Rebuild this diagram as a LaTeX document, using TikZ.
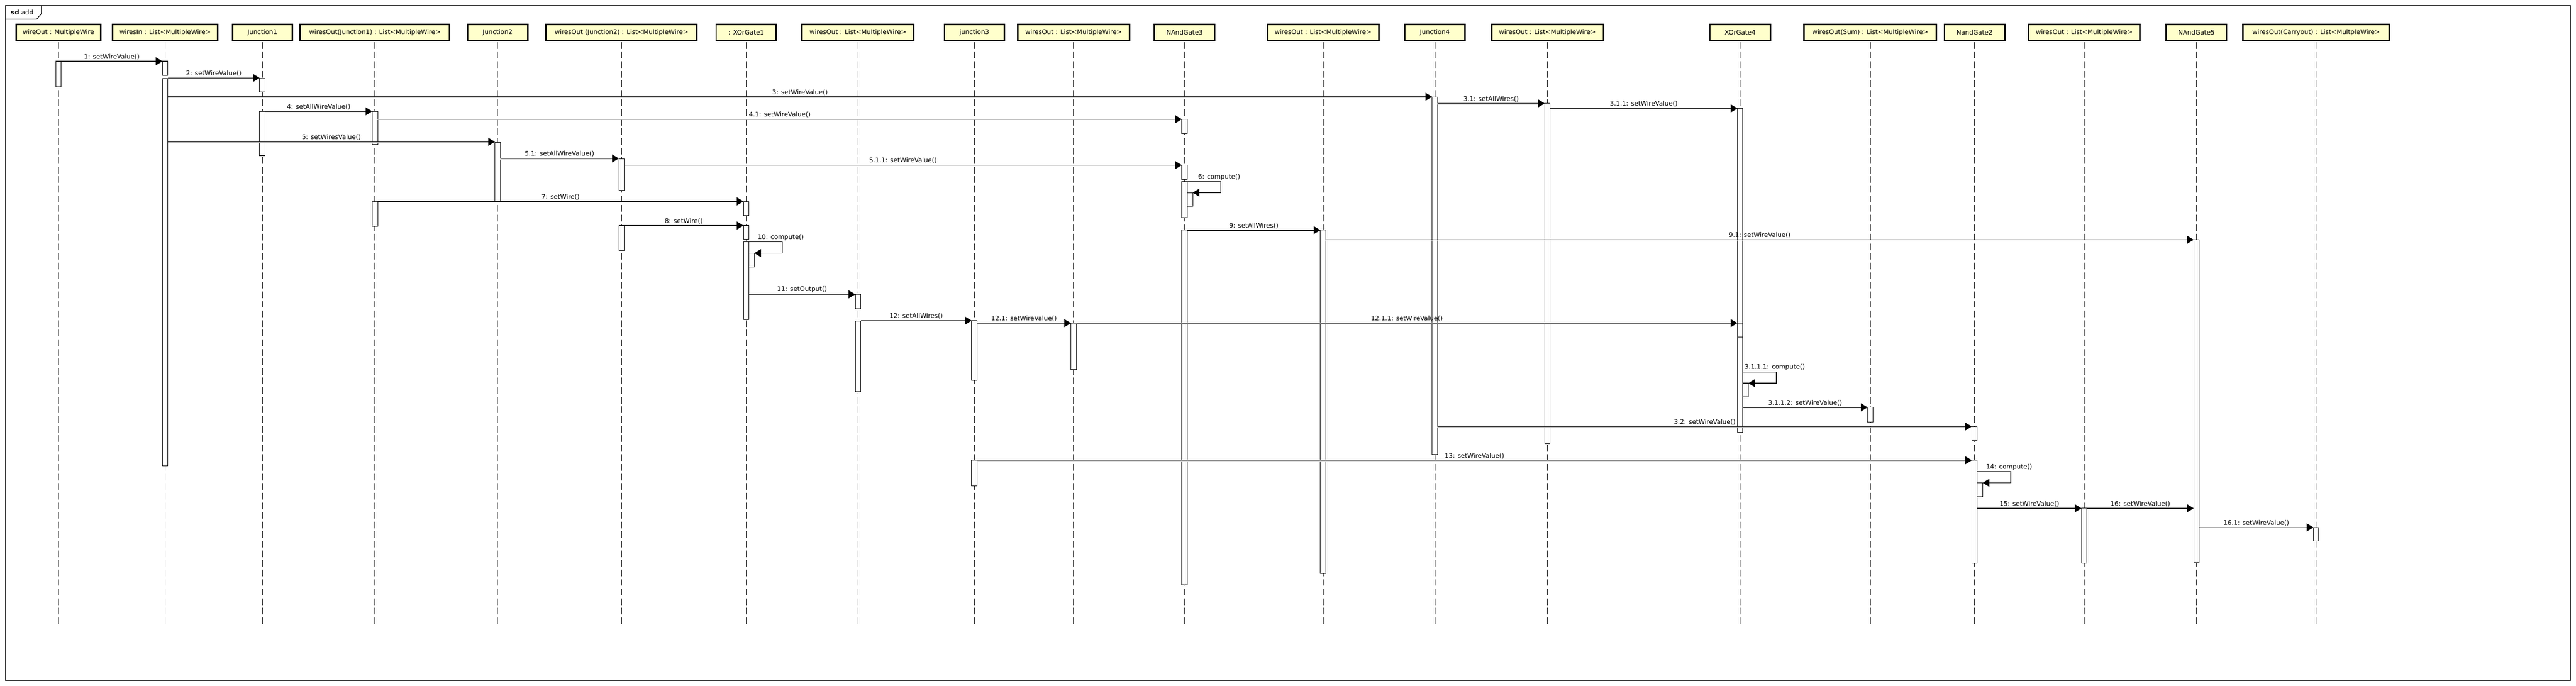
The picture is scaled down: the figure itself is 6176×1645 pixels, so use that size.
\documentclass[tikz,border=0pt]{standalone}
\usepackage{fontspec}
\setmainfont{DejaVu Sans}
\usetikzlibrary{arrows.meta,calc}
\definecolor{headfill}{RGB}{255,255,204}
\newcommand\seqact[3]{\draw[actbox] ($(h#1 |- 0,#2)+(-6.5,0)$) rectangle ($(h#1 |- 0,#3)+(6.5,0)$);}
\newcommand\seqnact[3]{\draw[actbox] ($(h#1 |- 0,#2)+(6.5,0)$) rectangle ($(h#1 |- 0,#3)+(19.5,0)$);}
\newcommand\seqmsg[4]{%
  \coordinate (ms) at ($(h#1 |- 0,#3)+(6.5,0)$);
  \coordinate (me) at ($(h#2 |- 0,#3)+(-6.5,0)$);
  \draw[msgshadow] ($(ms)+(0,1.6)$) -- ($(me)+(-16,1.6)$);
  \draw[msg] (ms) -- (me) node[midway, lbl] {#4};}
\newcommand\seqself[4]{%
  \coordinate (ss) at ($(h#1 |- 0,#2)+(6.5,0)$);
  \coordinate (sa) at ($(h#1 |- 0,#2)+(87,0)$);
  \coordinate (sb) at ($(h#1 |- 0,#3)+(87,0)$);
  \coordinate (se) at ($(h#1 |- 0,#3)+(19.5,0)$);
  \draw[msg] (ss) -- (sa) -- (sb) -- (se);
  \node[lbl] at ($(h#1 |- 0,#2)+(83,0)$) {#4};}
\begin{document}
\begin{tikzpicture}[x=1pt,y=-1pt,
  every node/.style={font=\fontsize{15.3}{18}\selectfont},
  head/.style={draw=black, line width=3.5pt, fill=headfill, minimum height=39pt, inner sep=0pt},
  lifeline/.style={draw=black, line width=1pt, dash pattern=on 16pt off 7pt},
  actbox/.style={draw=black, fill=white, line width=1.3pt},
  msg/.style={draw=black, line width=1.5pt, -{Triangle[length=16pt,width=19pt]}},
  msgshadow/.style={draw=gray!40, line width=1.5pt},
  lbl/.style={above=3pt, inner sep=0pt},
  frameline/.style={draw=black, line width=1.5pt}]

\useasboundingbox (0,0) rectangle (6176,1645);
\fill[white] (0,0) rectangle (6176,1645);

% frame
\draw[frameline] (13,13) rectangle (6163,1632);
\draw[frameline] (13,46) -- (88,46) -- (99,33) -- (99,13);
\node[inner sep=0pt] (tab) at (53,30) {\textbf{sd} add};

% heads
\node[head, minimum width=203pt] (h1) at (140,78) {wireOut : MultipleWire};
\node[head, minimum width=252pt] (h2) at (396,78) {wiresIn : List<MultipleWire>};
\node[head, minimum width=143pt] (h3) at (629,78) {Junction1};
\node[head, minimum width=358pt] (h4) at (899,78) {wiresOut(Junction1) : List<MultipleWire>};
\node[head, minimum width=144pt] (h5) at (1193,78) {Junction2};
\node[head, minimum width=362pt] (h6) at (1490,78) {wiresOut (Junction2) : List<MultipleWire>};
\node[head, minimum width=144pt] (h7) at (1789,78) {: XOrGate1};
\node[head, minimum width=268pt] (h8) at (2057,78) {wiresOut : List<MultipleWire>};
\node[head, minimum width=144pt] (h9) at (2336,78) {junction3};
\node[head, minimum width=268pt] (h10) at (2574,78) {wiresOut : List<MultipleWire>};
\node[head, minimum width=145pt] (h11) at (2840,78) {NAndGate3};
\node[head, minimum width=267pt] (h12) at (3172,78) {wiresOut : List<MultipleWire>};
\node[head, minimum width=144pt] (h13) at (3440,78) {Junction4};
\node[head, minimum width=268pt] (h14) at (3710,78) {wiresOut : List<MultipleWire>};
\node[head, minimum width=145pt] (h15) at (4172,78) {XOrGate4};
\node[head, minimum width=317pt] (h16) at (4484,78) {wiresOut(Sum) : List<MultipleWire>};
\node[head, minimum width=145pt] (h17) at (4734,78) {NandGate2};
\node[head, minimum width=267pt] (h18) at (4997,78) {wiresOut : List<MultipleWire>};
\node[head, minimum width=145pt] (h19) at (5266,78) {NAndGate5};
\node[head, minimum width=351pt] (h20) at (5553,78) {wiresOut(Carryout) : List<MultpleWire>};

% lifelines
\foreach \i in {1,...,20} {
  \draw[lifeline] ($(h\i.south)+(0,1.75)$) -- (h\i |- 0,1498);
}

% activations
\seqact{1}{147}{208}
\seqact{2}{147}{181}
\seqact{2}{188}{1117}
\seqact{3}{188}{221}
\seqact{3}{267}{373}
\seqact{4}{267}{346}
\seqact{4}{483}{543}
\seqact{5}{341}{483}
\seqact{6}{381}{456}
\seqact{6}{541}{601}
\seqact{7}{483}{517}
\seqact{7}{541}{574}
\seqact{7}{580}{766}
\seqnact{7}{607}{640}
\seqact{8}{706}{740}
\seqact{8}{770}{939}
\seqact{9}{769}{912}
\seqact{9}{1104}{1165}
\seqact{10}{775}{886}
\seqact{11}{286}{320}
\seqact{11}{396}{430}
\seqact{11}{435}{522}
\seqnact{11}{462}{495}
\seqact{11}{552}{1402}
\seqact{12}{552}{1375}
\seqact{13}{233}{1090}
\seqact{14}{248}{1064}
\seqact{15}{260}{1037}
\seqact{15}{775}{809}
\seqnact{15}{919}{952}
\seqact{16}{977}{1012}
\seqact{17}{1023}{1057}
\seqact{17}{1104}{1351}
\seqnact{17}{1158}{1191}
\seqact{18}{1219}{1351}
\seqact{19}{575}{1349}
\seqact{20}{1265}{1298}

% messages
\seqmsg{1}{2}{147}{1: setWireValue()}
\seqmsg{2}{3}{187}{2: setWireValue()}
\seqmsg{2}{13}{232}{3: setWireValue()}
\seqmsg{13}{14}{248}{3.1: setAllWires()}
\seqmsg{14}{15}{260}{3.1.1: setWireValue()}
\seqmsg{3}{4}{267}{4: setAllWireValue()}
\seqmsg{4}{11}{286}{4.1: setWireValue()}
\seqmsg{2}{5}{340}{5: setWiresValue()}
\seqmsg{5}{6}{380}{5.1: setAllWireValue()}
\seqmsg{6}{11}{396}{5.1.1: setWireValue()}
\seqself{11}{435}{462}{6: compute()}
\seqmsg{4}{7}{483}{7: setWire()}
\seqmsg{6}{7}{541}{8: setWire()}
\seqmsg{11}{12}{552}{9: setAllWires()}
\seqmsg{12}{19}{575}{9.1: setWireValue()}
\seqself{7}{580}{607}{10: compute()}
\seqmsg{7}{8}{706}{11: setOutput()}
\seqmsg{8}{9}{769}{12: setAllWires()}
\seqmsg{9}{10}{775}{12.1: setWireValue()}
\seqmsg{10}{15}{775}{12.1.1: setWireValue()}
\seqself{15}{892}{919}{3.1.1.1: compute()}
\seqmsg{15}{16}{977}{3.1.1.2: setWireValue()}
\seqmsg{13}{17}{1023}{3.2: setWireValue()}
\seqmsg{9}{17}{1104}{13: setWireValue()}
\seqself{17}{1131}{1158}{14: compute()}
\seqmsg{17}{18}{1219}{15: setWireValue()}
\seqmsg{18}{19}{1219}{16: setWireValue()}
\seqmsg{19}{20}{1265}{16.1: setWireValue()}
\end{tikzpicture}
\end{document}
